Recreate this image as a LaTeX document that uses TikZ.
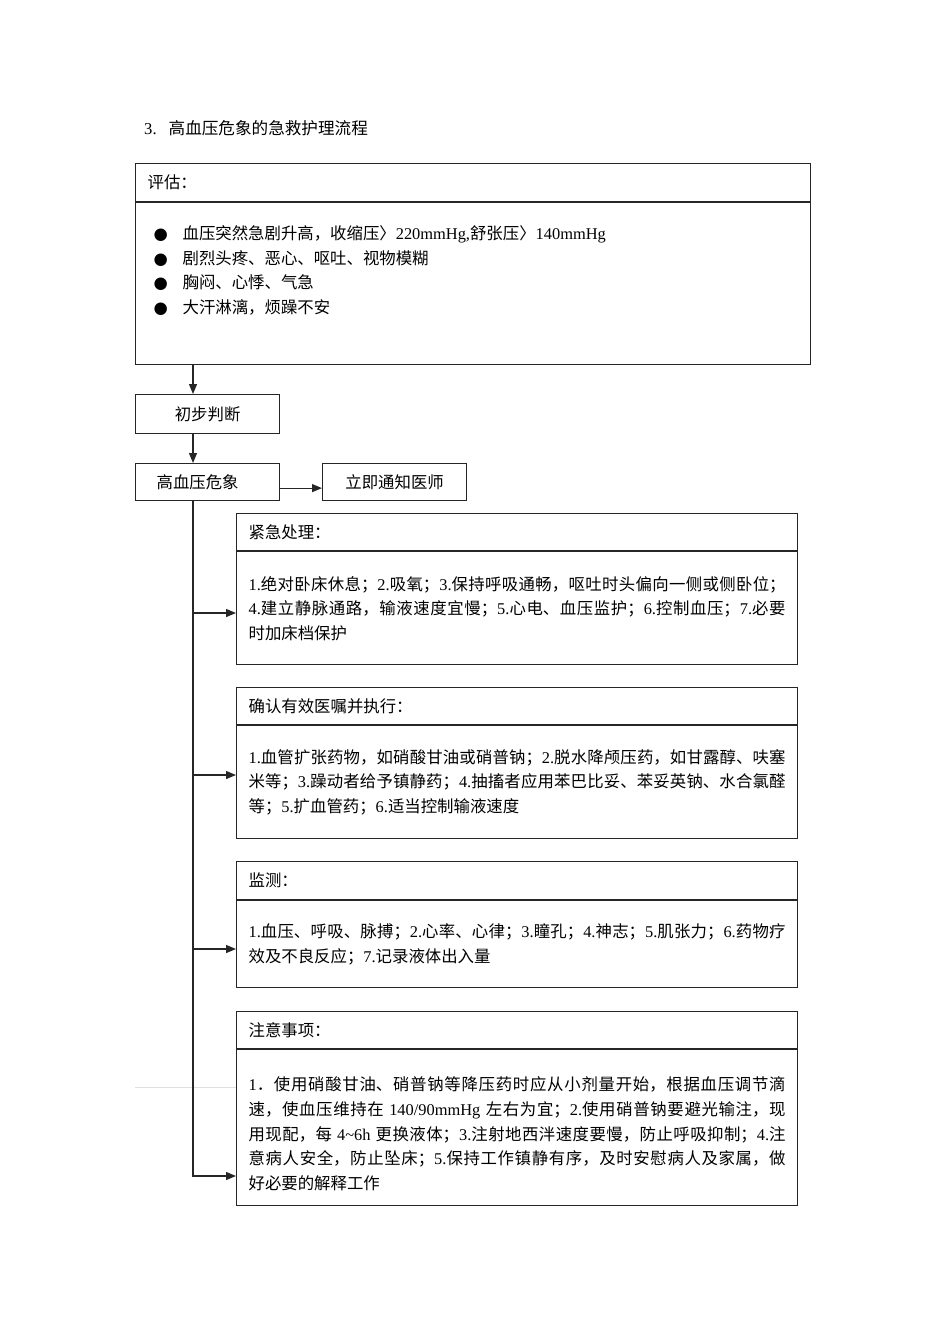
\documentclass[tikz,border=0pt]{standalone}
\usepackage{fontspec}
\setmainfont{Liberation Serif}
\newfontfamily\cjkfont{Noto Sans CJK SC}
\newfontfamily\symfont{DejaVu Sans}
\usetikzlibrary{arrows.meta}
% 中文字体自动切换
\XeTeXinterchartokenstate=1
\newXeTeXintercharclass\cjkclass
\newXeTeXintercharclass\symclass
\newcount\cjkcode
\cjkcode="4E00
\loop \XeTeXcharclass\cjkcode=\cjkclass \advance\cjkcode 1 \ifnum\cjkcode<"A000 \repeat
\cjkcode="3000
\loop \XeTeXcharclass\cjkcode=\cjkclass \advance\cjkcode 1 \ifnum\cjkcode<"3040 \repeat
\cjkcode="FF00
\loop \XeTeXcharclass\cjkcode=\cjkclass \advance\cjkcode 1 \ifnum\cjkcode<"FFF0 \repeat
\XeTeXcharclass"25CF=\symclass
\XeTeXinterchartoks 0 \cjkclass = {\cjkfont}
\XeTeXinterchartoks 4095 \cjkclass = {\cjkfont}
\XeTeXinterchartoks \cjkclass 0 = {\rmfamily}
\XeTeXinterchartoks \cjkclass 4095 = {\rmfamily}
\XeTeXlinebreaklocale "zh"
\XeTeXlinebreakskip=0pt plus 1pt
\tikzset{
  box/.style={draw=black!85, line width=1.2pt, rectangle, inner sep=0pt,
    anchor=north west, font=\fontsize{16.4}{24.6}\selectfont},
  headbox/.style={box, minimum height=37pt, text width=537pt, inner xsep=12pt, align=left},
  bodybox/.style={box, text width=537pt, inner xsep=12pt, align=justify},
  stepbox/.style={box, minimum width=144pt, minimum height=37pt},
  arr/.style={draw=black!85, line width=1.2pt, -{Triangle[length=10pt,width=8pt]}}
}
\newcommand{\bulletmark}{\hspace*{6pt}\makebox[29pt][l]{\symfont ●}}
\begin{document}
\begin{tikzpicture}[x=1pt,y=-1pt]
    \useasboundingbox (0,0) rectangle (950,1344);
    % 标题
    \node[anchor=west, inner sep=0pt, font=\fontsize{16.6}{24.6}\selectfont] (title) at (144,128) {3.\hspace{12pt}高血压危象的急救护理流程};

    % 评估
    \node[headbox, text width=651pt, minimum height=38pt] (assesshead) at (135,163) {评估：};
    \node[bodybox, text width=651pt, minimum height=162pt, align=left] (assessbody) at (assesshead.south west) {\bulletmark 血压突然急剧升高，收缩压〉220mmHg,舒张压〉140mmHg\par
        \bulletmark 剧烈头疼、恶心、呕吐、视物模糊\par
        \bulletmark 胸闷、心悸、气急\par
        \bulletmark 大汗淋漓，烦躁不安\par
        \rule[-4pt]{0pt}{4pt}};

    \node[stepbox, minimum height=39pt] (judge) at (135,394) {初步判断};
    \node[stepbox, text width=102pt, inner xsep=21pt, align=left] (crisis) at (135,463) {高血压危象};
    \node[stepbox] (notify) at (322,463) {立即通知医师};

    % 紧急处理
    \node[headbox] (urghead) at (236,513) {紧急处理：};
    \node[bodybox, minimum height=113pt] (urgbody) at (urghead.south west) {1.绝对卧床休息；2.吸氧；3.保持呼吸通畅，呕吐时头偏向一侧或侧卧位；\linebreak
        4.建立静脉通路，输液速度宜慢；5.心电、血压监护；6.控制血压；7.必要\linebreak
        时加床档保护};

    % 医嘱
    \node[headbox] (orderhead) at (236,687) {确认有效医嘱并执行：};
    \node[bodybox, minimum height=113pt] (orderbody) at (orderhead.south west) {1.血管扩张药物，如硝酸甘油或硝普钠；2.脱水降颅压药，如甘露醇、呋塞\linebreak
        米等；3.躁动者给予镇静药；4.抽搐者应用苯巴比妥、苯妥英钠、水合氯醛\linebreak
        等；5.扩血管药；6.适当控制输液速度};

    % 监测
    \node[headbox, minimum height=38pt] (monhead) at (236,861) {监测：};
    \node[bodybox, minimum height=87pt] (monbody) at (monhead.south west) {1.血压、呼吸、脉搏；2.心率、心律；3.瞳孔；4.神志；5.肌张力；6.药物疗\linebreak
        效及不良反应；7.记录液体出入量};

    % 注意事项
    \node[headbox] (notehead) at (236,1011) {注意事项：};
    \node[bodybox, minimum height=156pt] (notebody) at (notehead.south west) {\rule{0pt}{26pt}1．使用硝酸甘油、硝普钠等降压药时应从小剂量开始，根据血压调节滴\linebreak
        速，使血压维持在 140/90mmHg 左右为宜；2.使用硝普钠要避光输注，现\linebreak
        用现配，每 4\textasciitilde 6h 更换液体；3.注射地西泮速度要慢，防止呼吸抑制；4.注\linebreak
        意病人安全，防止坠床；5.保持工作镇静有序，及时安慰病人及家属，做\linebreak
        好必要的解释工作};

    \draw[black!12, line width=1pt] (135,1087) -- (236,1087);

    % 箭头
    \coordinate (spine) at (193,0);
    \coordinate (t1) at (193,613);
    \coordinate (t2) at (193,775);
    \coordinate (t3) at (193,949);
    \coordinate (t4) at (193,1176);
    \draw[arr] (assessbody.south -| spine) -- (judge.north -| spine);
    \draw[arr] (judge.south -| spine) -- (crisis.north -| spine);
    \draw[arr] ([yshift=-6pt]crisis.east) -- ([yshift=-6pt]notify.west);
    \draw[arr] (crisis.south -| spine) -- (t4) -- (t4 -| notebody.west);
    \draw[arr] (t1) -- (t1 -| urgbody.west);
    \draw[arr] (t2) -- (t2 -| orderbody.west);
    \draw[arr] (t3) -- (t3 -| monbody.west);
\end{tikzpicture}
\end{document}
